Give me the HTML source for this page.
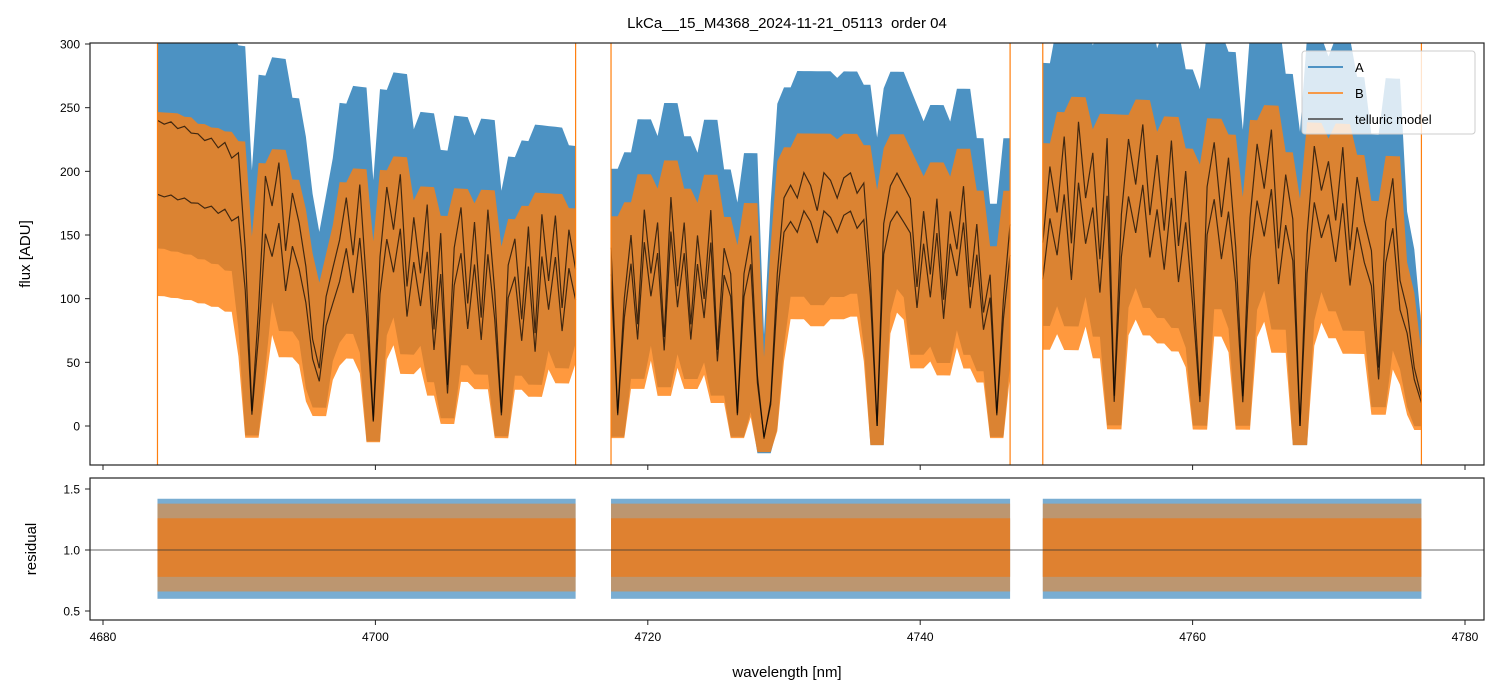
<!DOCTYPE html>
<html><head><meta charset="utf-8"><style>
body{margin:0;background:#fff}
svg{display:block;font-family:"Liberation Sans","DejaVu Sans",sans-serif}
</style></head><body>
<svg id="chart" width="1500" height="696" viewBox="0 0 1500 696">
<defs>
<clipPath id="ctop"><rect x="90" y="43" width="1394" height="422"/></clipPath>
<clipPath id="cbot"><rect x="90" y="478" width="1394" height="142"/></clipPath>
</defs>
<text x="787" y="28" font-size="15" text-anchor="middle" style="white-space:pre">LkCa__15_M4368_2024-11-21_05113  order 04</text>
<g id="topg" clip-path="url(#ctop)"></g>
<g id="botg" clip-path="url(#cbot)"></g>
<g id="axesg"></g>
<g>
<rect x="1302" y="51" width="173" height="83" rx="3" fill="#fff" fill-opacity="0.8" stroke="#ccc"/>
<line x1="1308" y1="67" x2="1343" y2="67" stroke="#1f77b4" stroke-width="1.5"/>
<text x="1355" y="72" font-size="13">A</text>
<line x1="1308" y1="93" x2="1343" y2="93" stroke="#ff7f0e" stroke-width="1.5"/>
<text x="1355" y="98" font-size="13">B</text>
<line x1="1308" y1="119" x2="1343" y2="119" stroke="#444" stroke-width="1.5"/>
<text x="1355" y="124" font-size="13">telluric model</text>
</g>
<text x="787" y="677" font-size="15" text-anchor="middle">wavelength [nm]</text>
<text transform="translate(30,254) rotate(-90)" font-size="15" text-anchor="middle">flux [ADU]</text>
<text transform="translate(36,549) rotate(-90)" font-size="15" text-anchor="middle">residual</text>
</svg>
<script>
const segStart = [4684.0, 4717.3, 4749.0];
const segEnd = [4714.7, 4746.6, 4776.8];
const contA = [[240, 205], [200, 198], [240, 228]];
const contB = [[182, 165], [170, 168], [192, 182]];
const trans1 = [1.0,.99,1.0,.98,.99,.97,.97,.95,.96,.93,.95,.9,.92,.6,.05,.4,.85,.75,.9,.6,.8,.7,.55,.3,.2,.45,.55,.65,.8,.6,.85,.5,.02,.6,.85,.7,.9,.5,.75,.55,.8,.35,.7,.15,.65,.8,.45,.75,.4,.8,.5,.05,.6,.7,.4,.75,.35,.8,.55,.8,.45,.75,.6];
const trans2 = [.7,.05,.5,.75,.4,.85,.6,.8,.35,.9,.55,.8,.4,.75,.5,.85,.3,.7,.6,.05,.6,.75,.2,-.05,.1,.6,.9,.95,.9,1.0,.95,.85,1.0,.97,.9,.98,1.0,.92,.96,.6,.0,.8,.95,1.0,.95,.9,.55,.85,.6,.9,.5,.85,.7,.95,.55,.8,.45,.6,.05,.5,.8];
const trans3 = [.6,.85,.7,.95,.6,1.0,.75,.9,.55,.95,.1,.7,.95,.8,1.0,.7,.9,.65,.95,.6,.85,.5,.1,.8,.95,.7,.9,.6,.1,.7,.95,.8,1.0,.6,.85,.7,.0,.65,.95,.8,.9,.7,.95,.6,.85,.7,.6,.2,.7,.85,.5,.4,.2,.1];
const transAll = [trans1, trans2, trans3];
const residA = [0.6, 1.42];
const residB = [0.78, 1.26];
const residBOuter = [0.66, 1.38];
const yTicks = [0, 50, 100, 150, 200, 250, 300];
const rTicks = [0.5, 1.0, 1.5];
const xTicks = [4680, 4700, 4720, 4740, 4760, 4780];

(function () {
const NS = "http://www.w3.org/2000/svg";
const X = v => 103 + (v - 4680) * 13.62;
const Y = v => 426 - v * 1.2733;
const R = v => 550 - (v - 1) * 122;
function mk(tag, attrs, parent) {
  const e = document.createElementNS(NS, tag);
  for (const k in attrs) e.setAttribute(k, attrs[k]);
  parent.appendChild(e);
  return e;
}
const topG = document.getElementById('topg'), botG = document.getElementById('botg'), axG = document.getElementById('axesg');

const models = [];
for (let s = 0; s < 3; s++) {
  const tr = transAll[s], n = tr.length;
  const pts = [];
  for (let i = 0; i < n; i++) {
    const f = i / (n - 1);
    const w = segStart[s] + f * (segEnd[s] - segStart[s]);
    const ca = contA[s][0] + f * (contA[s][1] - contA[s][0]);
    const cb = contB[s][0] + f * (contB[s][1] - contB[s][0]);
    const nb = [tr[Math.max(0, i - 1)], tr[i], tr[Math.min(n - 1, i + 1)]];
    const tmax = Math.max(...nb), tmin = Math.min(...nb);
    pts.push({w: w, a: ca * tr[i], b: cb * tr[i],
      aHi: ca * 1.3 * tmax + 20, aLo: ca * 0.65 * tmin - 15,
      bHi: cb * 1.3 * tmax + 10, bLo: cb * 0.65 * tmin - 15});
  }
  models.push(pts);
}
function band(pts, hk, lk, color, op, name) {
  const up = pts.map(p => X(p.w).toFixed(1) + ',' + Y(p[hk]).toFixed(1));
  const dn = pts.slice().reverse().map(p => X(p.w).toFixed(1) + ',' + Y(p[lk]).toFixed(1));
  const el = mk('polygon', {points: up.concat(dn).join(' '), fill: color, 'fill-opacity': op}, topG);
  
  
}
models.forEach((pts, s) => band(pts, 'aHi', 'aLo', '#1f77b4', 0.8, 'series-a-segment-' + (s + 1)));
models.forEach((pts, s) => band(pts, 'bHi', 'bLo', '#ff7f0e', 0.8, 'series-b-segment-' + (s + 1)));
models.forEach((pts, s) => {
  ['a', 'b'].forEach(k => {
    const el = mk('polyline', {points: pts.map(p => X(p.w).toFixed(1) + ',' + Y(p[k]).toFixed(1)).join(' '), fill: 'none', stroke: '#000', 'stroke-opacity': 0.7, 'stroke-width': 1.2}, topG);
    
    
  });
  [segStart[s], segEnd[s]].forEach(w => {
    const el = mk('line', {x1: X(w), x2: X(w), y1: 43, y2: 465, stroke: '#ff7f0e', 'stroke-width': 1.2}, topG);
    
    
  });
});
for (let s = 0; s < 3; s++) {
  const x0 = X(segStart[s]), x1 = X(segEnd[s]);
  const ra = mk('rect', {x: x0, width: x1 - x0, y: R(residA[1]), height: R(residA[0]) - R(residA[1]), fill: '#1f77b4', 'fill-opacity': 0.6}, botG);
  
  
  const ro = mk('rect', {x: x0, width: x1 - x0, y: R(residBOuter[1]), height: R(residBOuter[0]) - R(residBOuter[1]), fill: '#ff7f0e', 'fill-opacity': 0.5}, botG);
  
  
  const rb = mk('rect', {x: x0, width: x1 - x0, y: R(residB[1]), height: R(residB[0]) - R(residB[1]), fill: '#e0802c', 'fill-opacity': 0.95}, botG);
  
  
}
const ref = mk('line', {x1: 90, x2: 1484, y1: R(1), y2: R(1), stroke: '#333', 'stroke-width': 0.8}, botG);



[[43, 465], [478, 620]].forEach((r, i) => {
  const f = mk('rect', {x: 90, y: r[0], width: 1394, height: r[1] - r[0], fill: 'none', stroke: '#222', 'stroke-width': 1.2}, axG);
  
  
});
yTicks.forEach(v => {
  mk('line', {x1: 85, x2: 90, y1: Y(v), y2: Y(v), stroke: '#222'}, axG);
  const t = mk('text', {x: 80, y: Y(v) + 4.5, 'font-size': 12, 'text-anchor': 'end'}, axG);
  t.textContent = v;
  
  
});
rTicks.forEach(v => {
  mk('line', {x1: 85, x2: 90, y1: R(v), y2: R(v), stroke: '#222'}, axG);
  const t = mk('text', {x: 80, y: R(v) + 4.5, 'font-size': 12, 'text-anchor': 'end'}, axG);
  t.textContent = v.toFixed(1);
  
  
});
xTicks.forEach(v => {
  mk('line', {x1: X(v), x2: X(v), y1: 465, y2: 470, stroke: '#222'}, axG);
  mk('line', {x1: X(v), x2: X(v), y1: 620, y2: 625, stroke: '#222'}, axG);
  const t = mk('text', {x: X(v), y: 641, 'font-size': 12, 'text-anchor': 'middle'}, axG);
  t.textContent = v;
  
  
});
})();
</script>
</body></html>
